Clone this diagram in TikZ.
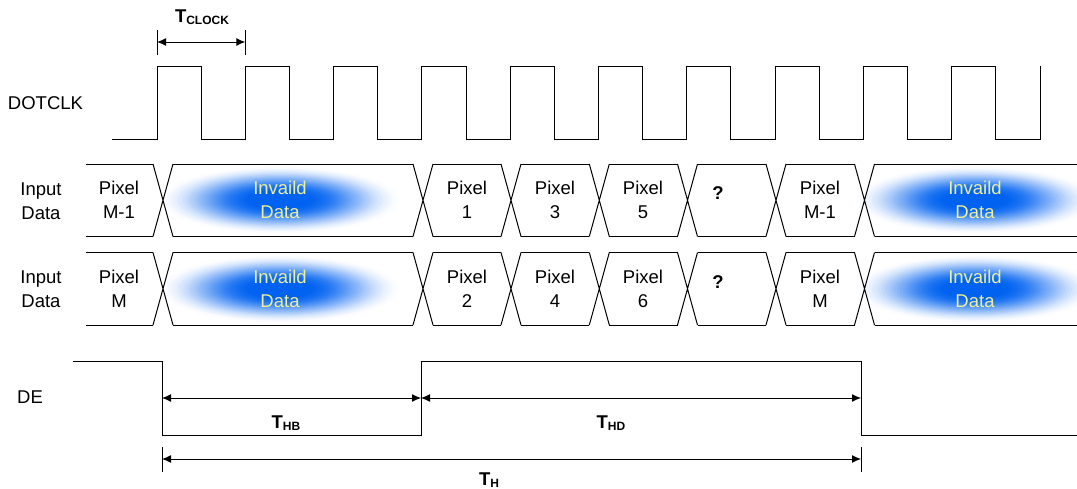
\documentclass[tikz,border=0pt]{standalone}
\usepackage{fontspec}
\setmainfont{Liberation Sans}
\usetikzlibrary{arrows.meta}
\definecolor{blobblue}{RGB}{0,98,240}
\definecolor{invyellow}{RGB}{240,240,150}
\newcommand{\tlab}[1]{\textbf{T\raisebox{-2pt}{\fontsize{12}{12}\selectfont #1}}}

\begin{document}
\begin{tikzpicture}[x=1pt,y=-1pt,line width=1pt,
	lbl/.style={font=\fontsize{18.5}{23.5}\selectfont,align=center,inner sep=0pt},
	inv/.style={lbl,text=invyellow},
	qmark/.style={lbl,font=\fontsize{18.5}{23.5}\selectfont\bfseries},
	dim/.style={{Latex[length=9pt,width=8pt]}-{Latex[length=9pt,width=8pt]}}]
	\useasboundingbox (0,0) rectangle (1077,488);
	% blobs behind the invalid data
	\foreach \x/\y in {280/200,280/289,975/200,975/289}
		\foreach \i in {0,...,39} {
			\pgfmathsetmacro\t{min(1,1.3*\i/40)}
			\pgfmathtruncatemacro\pc{100*\t*\t*(3-2*\t)}
			\fill[blobblue!\pc!white] (\x,\y) ellipse ({125*(1-\i/40)} and {35*(1-\i/40)});
		}
	% clock
	\draw (112,139) \foreach \k in {0,...,9} { -- ({157+88.3*\k},139) -- ({157+88.3*\k},66) -- ({201.15+88.3*\k},66) -- ({201.15+88.3*\k},139) } -- (1040,139) -- (1040,66);
	\draw (157,30) -- (157,55) (245.3,30) -- (245.3,55);
	\coordinate (ckL) at (157,42);
	\coordinate (ckR) at (245.3,42);
	\draw[dim] (ckL) -- (ckR);
	\node[lbl] (tclk) at (202,17) {\tlab{CLOCK}};
	% data rows
	\foreach \yt/\yb in {164/236.5,252.5/325} {
		\foreach \c [remember=\c as \p (initially 76)] in {163,423,511,599.3,687.5,776,864.5} {
			\draw (\p+10,\yt) -- (\c-10,\yt) (\p+10,\yb) -- (\c-10,\yb);
			\draw (\c-10,\yt) -- (\c+10,\yb) (\c-10,\yb) -- (\c+10,\yt);
		}
		\draw (874.5,\yt) -- (1077,\yt) (874.5,\yb) -- (1077,\yb);
	}
	\node[lbl] (dclk) at (45.5,103) {DOTCLK};
	\node[lbl] (ina) at (41,201) {Input\\Data};
	\node[lbl] (inb) at (41,289) {Input\\Data};
	\node[lbl] (de) at (30,397) {DE};
	\foreach \x/\t [count=\i] in {119/{Pixel\\M-1},467/{Pixel\\1},555/{Pixel\\3},643/{Pixel\\5},820/{Pixel\\M-1}}
		\node[lbl] (ra\i) at (\x,200) {\t};
	\foreach \x/\t [count=\i] in {119/{Pixel\\M},467/{Pixel\\2},555/{Pixel\\4},643/{Pixel\\6},820/{Pixel\\M}}
		\node[lbl] (rb\i) at (\x,289) {\t};
	\node[qmark] (qa) at (718,193) {?};
	\node[qmark] (qb) at (718,282) {?};
	\foreach \x/\y [count=\i] in {280/200,280/289,975/200,975/289}
		\node[inv] (inv\i) at (\x,\y) {Invaild\\Data};
	% DE
	\draw (73,361.7) -- (162,361.7) -- (162,435) -- (421,435) -- (421,361.7) -- (861,361.7) -- (861,435) -- (1077,435);
	\draw (162,447) -- (162,472) (861,447) -- (861,472);
	\coordinate (hbL) at (162,398);
	\coordinate (hbR) at (421,398);
	\coordinate (hdR) at (861,398);
	\coordinate (hL) at (162,459);
	\coordinate (hR) at (861,459);
	\draw[dim] (hbL) -- (hbR);
	\draw[dim] (hbR) -- (hdR);
	\draw[dim] (hL) -- (hR);
	\node[lbl] (thb) at (286,423) {\tlab{HB}};
	\node[lbl] (thd) at (611,423) {\tlab{HD}};
	\node[lbl] (th) at (489,480) {\tlab{H}};
\end{tikzpicture}
\end{document}
